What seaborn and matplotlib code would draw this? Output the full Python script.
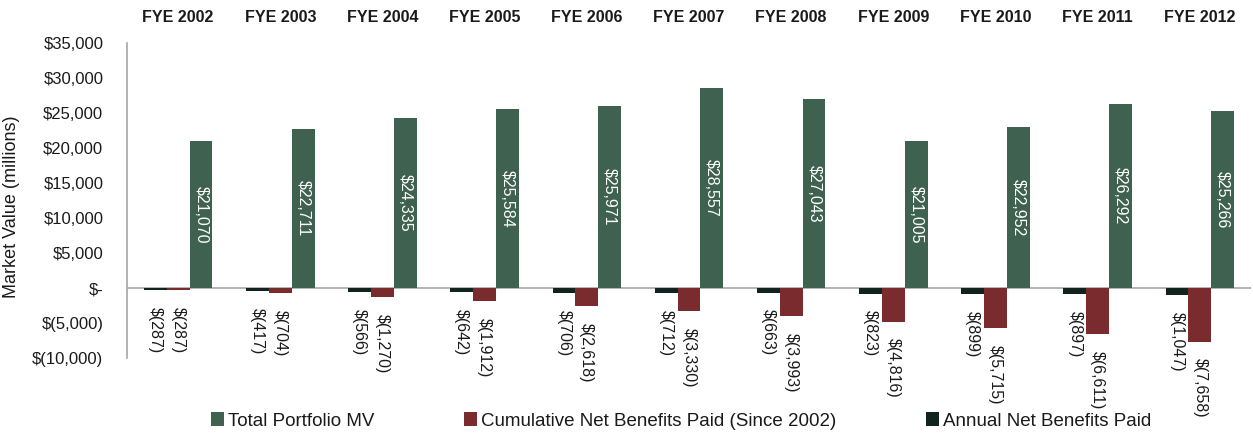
import matplotlib
matplotlib.use("Agg")
import matplotlib.pyplot as plt
from matplotlib.patches import Patch
import seaborn as sns
import pandas as pd

years = ["FYE 2002", "FYE 2003", "FYE 2004", "FYE 2005", "FYE 2006", "FYE 2007",
         "FYE 2008", "FYE 2009", "FYE 2010", "FYE 2011", "FYE 2012"]
total_mv = [21070, 22711, 24335, 25584, 25971, 28557, 27043, 21005, 22952, 26292, 25266]
cumulative_paid = [-287, -704, -1270, -1912, -2618, -3330, -3993, -4816, -5715, -6611, -7658]
annual_paid = [-287, -417, -566, -642, -706, -712, -663, -823, -899, -897, -1047]

series_names = ["Annual Net Benefits Paid", "Cumulative Net Benefits Paid (Since 2002)", "Total Portfolio MV"]
series_values = [annual_paid, cumulative_paid, total_mv]
colors = {"Annual Net Benefits Paid": "#10231f",
          "Cumulative Net Benefits Paid (Since 2002)": "#7a2b2d",
          "Total Portfolio MV": "#3f6150"}

yticks = [-10000, -5000, 0, 5000, 10000, 15000, 20000, 25000, 30000, 35000]

rows = []
for name, vals in zip(series_names, series_values):
    for yr, v in zip(years, vals):
        rows.append({"year": yr, "series": name, "value": v})
df = pd.DataFrame(rows)

sns.set_theme(style="white")
FONT = ["Liberation Sans", "DejaVu Sans"]
plt.rcParams["font.family"] = FONT

fig = plt.figure(figsize=(12.53, 4.34), dpi=100)
ax = fig.add_axes([127 / 1253, 1 - 358 / 434, (1251 - 127) / 1253, (358 - 43) / 434])

sns.barplot(data=df, x="year", y="value", hue="series", hue_order=series_names,
            order=years, palette=colors, width=0.67, linewidth=0, saturation=1,
            legend=False, ax=ax)


def fmt(v):
    if v < 0:
        return "$({:,})".format(-v)
    return "${:,}".format(v)


for cont, name, vals in zip(ax.containers, series_names, series_values):
    labels = [fmt(v) for v in vals]
    if name == "Total Portfolio MV":
        ax.bar_label(cont, labels=labels, label_type="center", rotation=-90,
                     color="white", fontsize=11.5)
    else:
        ax.bar_label(cont, labels=labels, label_type="edge", padding=12, rotation=-90,
                     color="#1a1a1a", fontsize=11.5)

ax.set_ylim(-10000, 35000)
ax.set_xlim(-0.5, len(years) - 0.5)
ax.set_yticks(yticks)
ax.set_yticklabels(["$-" if t == 0 else fmt(t) for t in yticks], fontsize=12, color="#1a1a1a")
ax.axhline(0, color="#a6a6a6", linewidth=1.2, zorder=0.5)

ax.xaxis.tick_top()
ax.set_xlabel("")
ax.tick_params(axis="x", length=0, pad=13, labelsize=11.5)
for lab in ax.get_xticklabels():
    lab.set_fontweight("bold")
    lab.set_color("#1a1a1a")
ax.tick_params(axis="y", length=0, pad=17)

ax.set_ylabel("Market Value (millions)", fontsize=13, color="#1a1a1a")
ax.yaxis.set_label_coords((20 - 127) / 1124, (358 - 207) / 315)

for s in ["top", "right", "bottom"]:
    ax.spines[s].set_visible(False)
ax.spines["left"].set_color("#a6a6a6")
ax.spines["left"].set_linewidth(1.2)

legend_order = ["Total Portfolio MV", "Cumulative Net Benefits Paid (Since 2002)", "Annual Net Benefits Paid"]
handles = [Patch(facecolor=colors[n], edgecolor="none") for n in legend_order]
fig.legend(handles, legend_order, loc="center", bbox_to_anchor=(681 / 1253, 1 - 421 / 434),
           ncol=3, frameon=False, fontsize=13.5, handlelength=0.7, handleheight=0.7,
           handletextpad=0.2, columnspacing=4.8, labelcolor="#1a1a1a")

fig.savefig("out.png", dpi=100)
